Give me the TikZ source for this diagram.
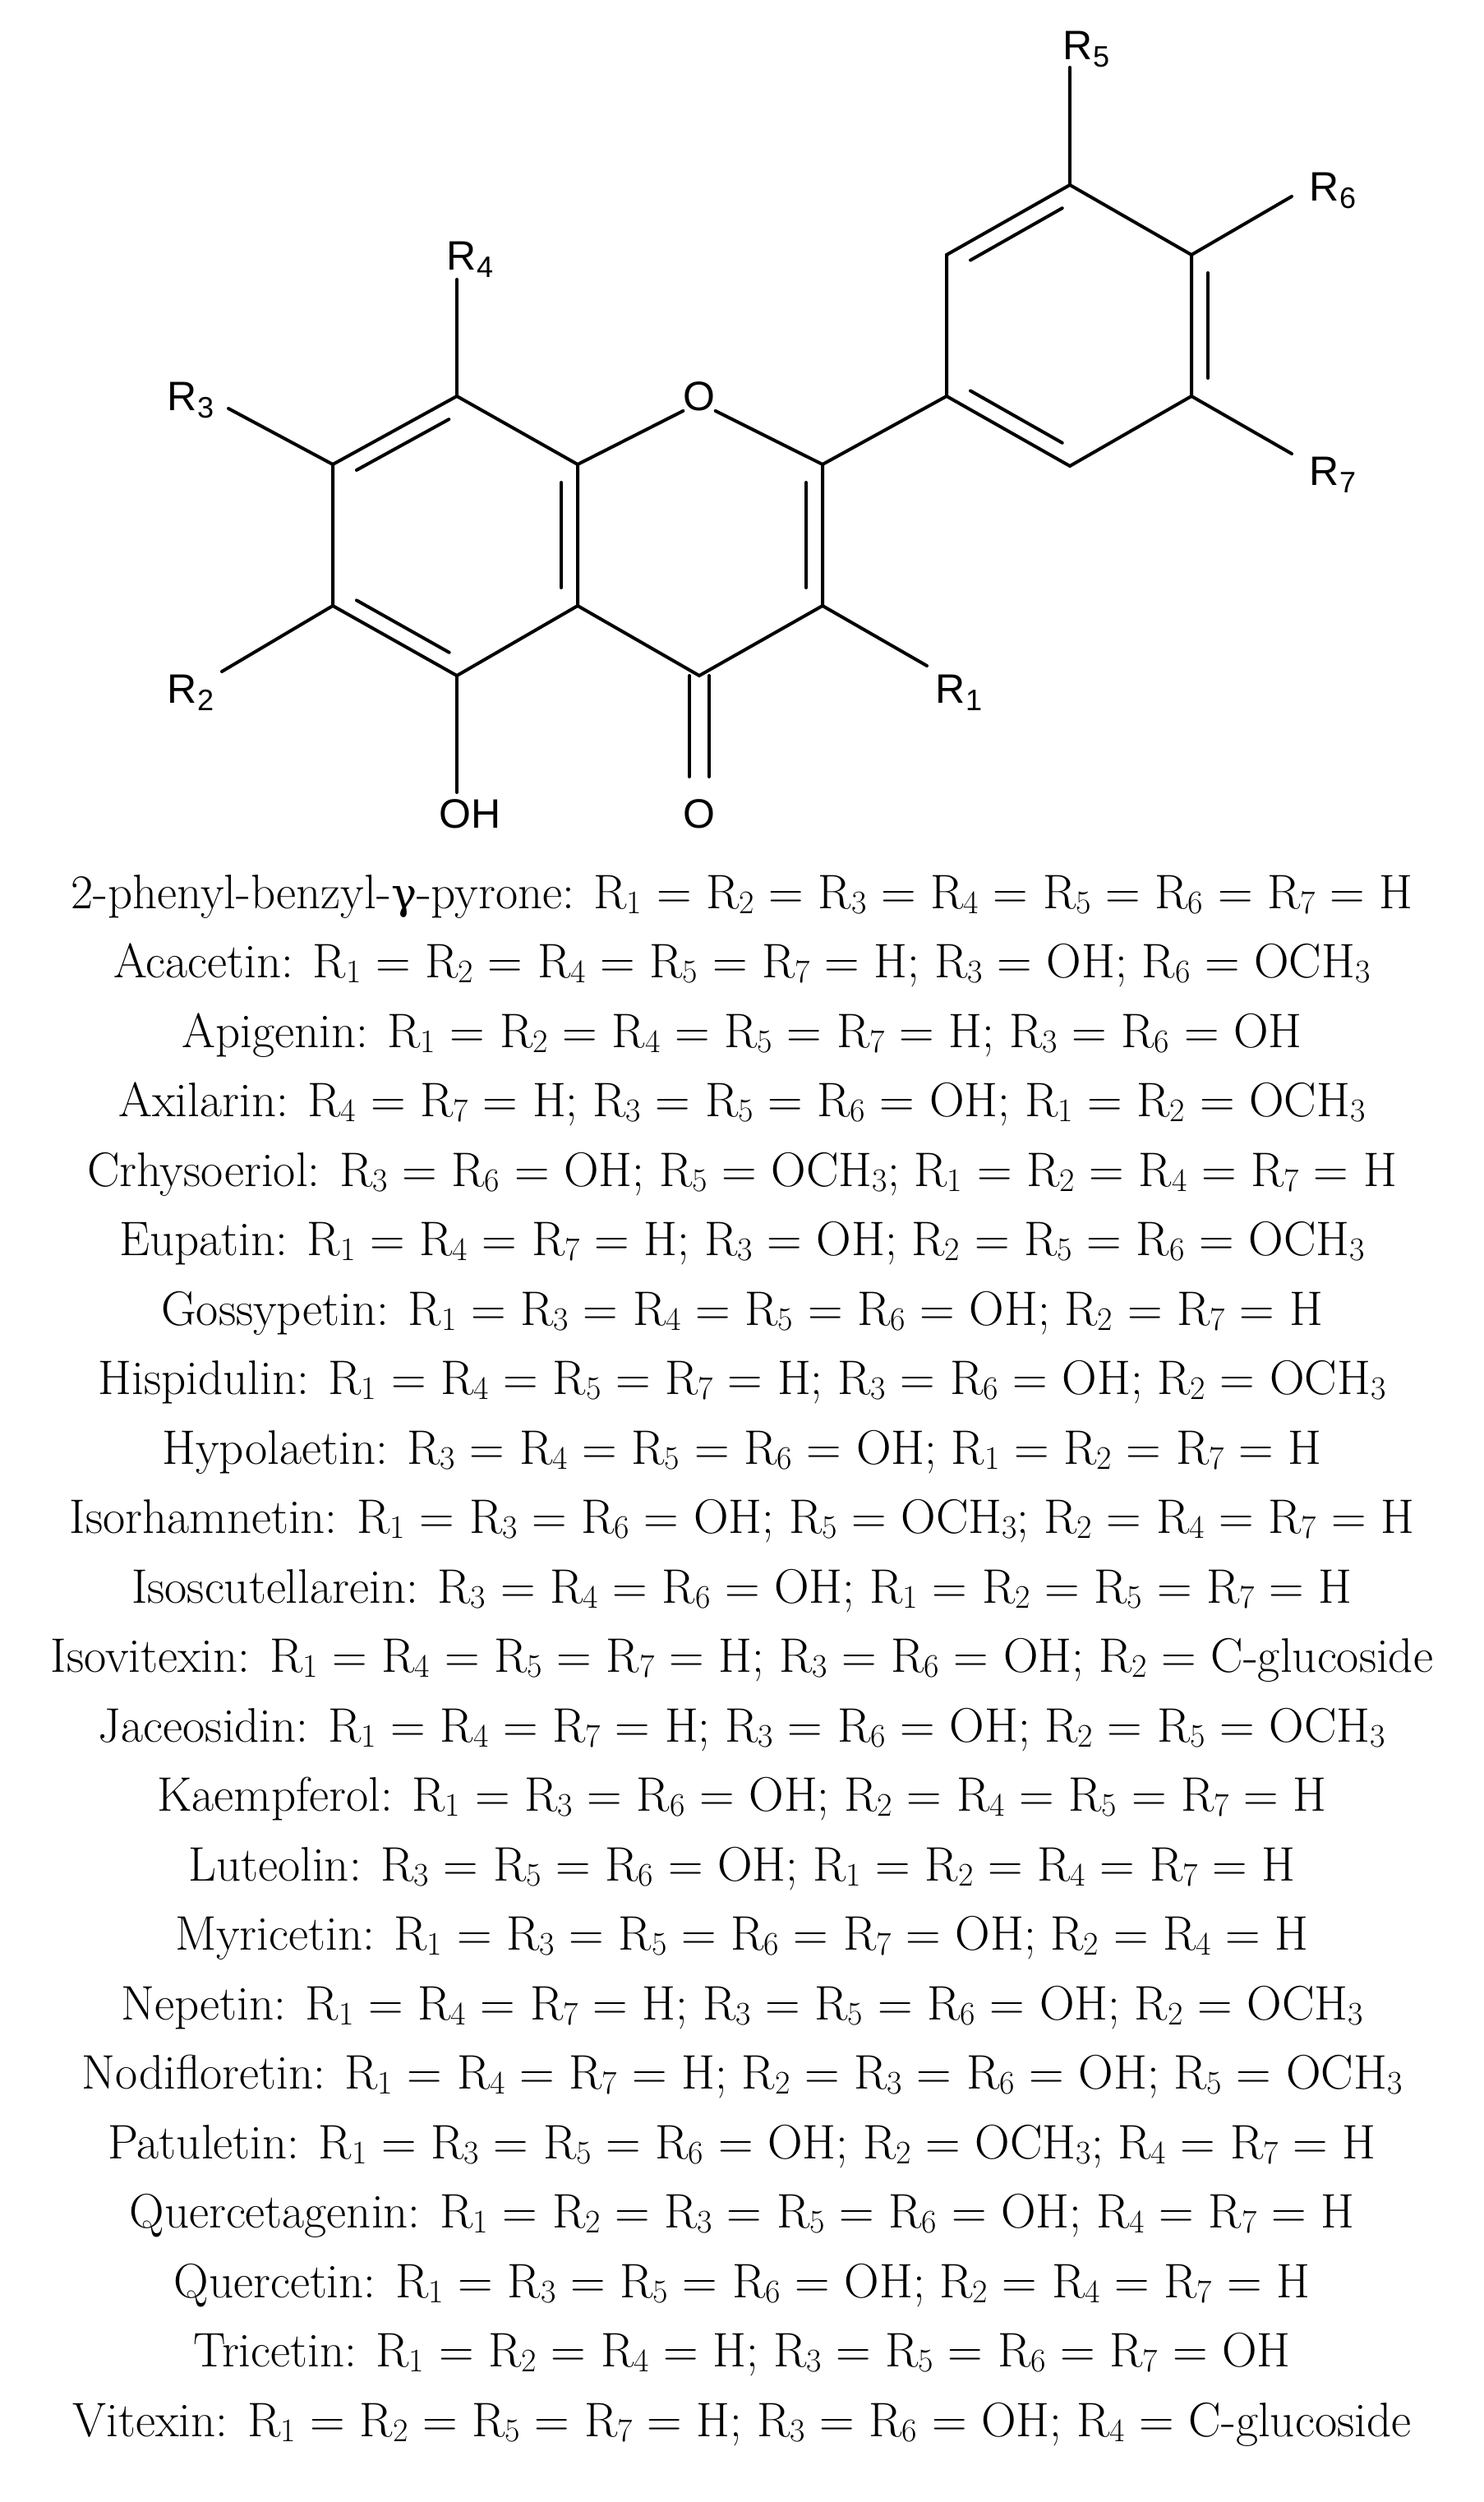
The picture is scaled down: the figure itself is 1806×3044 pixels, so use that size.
\documentclass[tikz,border=0pt]{standalone}
\usepackage{fontspec}
\usetikzlibrary{calc}
\newfontfamily\lsans{Liberation Sans}
\newfontfamily\gk{DejaVu Serif}
\newcommand{\Rr}[1]{R\raisebox{-0.25ex}{\fontsize{40}{40}\selectfont #1}}
\newcommand{\Th}{\raisebox{-0.25ex}{\fontsize{40}{40}\selectfont 3}}
\newcommand{\Sr}[1]{R\raisebox{-0.35ex}{\fontsize{36}{36}\selectfont #1}}
\newcommand{\dbl}[3]{\draw[bond,shorten <=22pt,shorten >=22pt] ($(#1)!20pt!#3:(#2)$) -- ($(#2)!20pt!-#3:(#1)$);}
\begin{document}
\begin{tikzpicture}[x=1pt,y=-1pt,
  bond/.style={line width=4pt,line cap=round},
  lab/.style={font=\lsans\fontsize{50}{50}\selectfont,inner sep=0pt},
  row/.style={font=\fontsize{59}{60}\selectfont,inner sep=0pt,anchor=base}]
\useasboundingbox (0,0) rectangle (1806,3044);
\coordinate (C8) at (556,482);
\coordinate (C7) at (405,565);
\coordinate (C6) at (405,737);
\coordinate (C5) at (556,822);
\coordinate (C4a) at (703,737);
\coordinate (C8a) at (703,565);
\node[lab] (O1) at (851,482) {O};
\coordinate (C2) at (1001,565);
\coordinate (C3) at (1001,737);
\coordinate (C4) at (851,822);
\coordinate (C1p) at (1152,482);
\coordinate (C2p) at (1152,310);
\coordinate (C3p) at (1302,225);
\coordinate (C4p) at (1450,310);
\coordinate (C5p) at (1450,482);
\coordinate (C6p) at (1302,567);
\node[lab] (Oc) at (851,990) {O};
\node[lab] (OH) at (572,990) {OH};
\node[lab] (R5) at (1322,60) {\Sr5};
\node[lab] (R6) at (1622,232) {\Sr6};
\node[lab] (R7) at (1622,578) {\Sr7};
\node[lab] (R4) at (572,316) {\Sr4};
\node[lab] (R3) at (232,487) {\Sr3};
\node[lab] (R2) at (232,843) {\Sr2};
\node[lab] (R1) at (1167,843) {\Sr1};
\coordinate (e5) at (1302,82);
\coordinate (e6) at (1572,239);
\coordinate (e7) at (1572,552);
\coordinate (e4) at (556,340);
\coordinate (e3) at (278,497);
\coordinate (e2) at (270,817);
\coordinate (e1) at (1128,810);
\coordinate (eO) at (851,945);
\coordinate (eOH) at (556,964);
\draw[bond] (C8) -- (C7) -- (C6) -- (C5) -- (C4a) -- (C8a) -- (C8);
\draw[bond] (C8a) -- (O1.south west);
\draw[bond] (O1.south east) -- (C2) -- (C3) -- (C4) -- (C4a);
\draw[bond] (C2) -- (C1p) -- (C2p) -- (C3p) -- (C4p) -- (C5p) -- (C6p) -- (C1p);
\dbl{C7}{C8}{-90}
\dbl{C5}{C6}{-90}
\dbl{C8a}{C4a}{-90}
\dbl{C2}{C3}{-90}
\dbl{C2p}{C3p}{-90}
\dbl{C4p}{C5p}{90}
\dbl{C1p}{C6p}{90}
\draw[bond] (C3p) -- (e5);
\draw[bond] (C4p) -- (e6);
\draw[bond] (C5p) -- (e7);
\draw[bond] (C8) -- (e4);
\draw[bond] (C7) -- (e3);
\draw[bond] (C6) -- (e2);
\draw[bond] (C3) -- (e1);
\draw[bond] (C5) -- (eOH);
\draw[bond] ($(C4)+(-12,0)$) -- ($(eO)+(-12,0)$);
\draw[bond] ($(C4)+(12,0)$) -- ($(eO)+(12,0)$);
\foreach \t [count=\i from 0] in {
{2-phenyl-benzyl-{\gk\fontsize{52}{52}\selectfont γ}-pyrone: \Rr1 = \Rr2 = \Rr3 = \Rr4 = \Rr5 = \Rr6 = \Rr7 = H},
{Acacetin: \Rr1 = \Rr2 = \Rr4 = \Rr5 = \Rr7 = H; \Rr3 = OH; \Rr6 = OCH\Th},
{Apigenin: \Rr1 = \Rr2 = \Rr4 = \Rr5 = \Rr7 = H; \Rr3 = \Rr6 = OH},
{Axilarin: \Rr4 = \Rr7 = H; \Rr3 = \Rr5 = \Rr6 = OH; \Rr1 = \Rr2 = OCH\Th},
{Crhysoeriol: \Rr3 = \Rr6 = OH; \Rr5 = OCH\Th; \Rr1 = \Rr2 = \Rr4 = \Rr7 = H},
{Eupatin: \Rr1 = \Rr4 = \Rr7 = H; \Rr3 = OH; \Rr2 = \Rr5 = \Rr6 = OCH\Th},
{Gossypetin: \Rr1 = \Rr3 = \Rr4 = \Rr5 = \Rr6 = OH; \Rr2 = \Rr7 = H},
{Hispidulin: \Rr1 = \Rr4 = \Rr5 = \Rr7 = H; \Rr3 = \Rr6 = OH; \Rr2 = OCH\Th},
{Hypolaetin: \Rr3 = \Rr4 = \Rr5 = \Rr6 = OH; \Rr1 = \Rr2 = \Rr7 = H},
{Isorhamnetin: \Rr1 = \Rr3 = \Rr6 = OH; \Rr5 = OCH\Th; \Rr2 = \Rr4 = \Rr7 = H},
{Isoscutellarein: \Rr3 = \Rr4 = \Rr6 = OH; \Rr1 = \Rr2 = \Rr5 = \Rr7 = H},
{Isovitexin: \Rr1 = \Rr4 = \Rr5 = \Rr7 = H; \Rr3 = \Rr6 = OH; \Rr2 = C-glucoside},
{Jaceosidin: \Rr1 = \Rr4 = \Rr7 = H; \Rr3 = \Rr6 = OH; \Rr2 = \Rr5 = OCH\Th},
{Kaempferol: \Rr1 = \Rr3 = \Rr6 = OH; \Rr2 = \Rr4 = \Rr5 = \Rr7 = H},
{Luteolin: \Rr3 = \Rr5 = \Rr6 = OH; \Rr1 = \Rr2 = \Rr4 = \Rr7 = H},
{Myricetin: \Rr1 = \Rr3 = \Rr5 = \Rr6 = \Rr7 = OH; \Rr2 = \Rr4 = H},
{Nepetin: \Rr1 = \Rr4 = \Rr7 = H; \Rr3 = \Rr5 = \Rr6 = OH; \Rr2 = OCH\Th},
{Nodifloretin: \Rr1 = \Rr4 = \Rr7 = H; \Rr2 = \Rr3 = \Rr6 = OH; \Rr5 = OCH\Th},
{Patuletin: \Rr1 = \Rr3 = \Rr5 = \Rr6 = OH; \Rr2 = OCH\Th; \Rr4 = \Rr7 = H},
{Quercetagenin: \Rr1 = \Rr2 = \Rr3 = \Rr5 = \Rr6 = OH; \Rr4 = \Rr7 = H},
{Quercetin: \Rr1 = \Rr3 = \Rr5 = \Rr6 = OH; \Rr2 = \Rr4 = \Rr7 = H},
{Tricetin: \Rr1 = \Rr2 = \Rr4 = H; \Rr3 = \Rr5 = \Rr6 = \Rr7 = OH},
{Vitexin: \Rr1 = \Rr2 = \Rr5 = \Rr7 = H; \Rr3 = \Rr6 = OH; \Rr4 = C-glucoside}}
  \node[row] (t\i) at (903,1105+84.5*\i) {\t};
\end{tikzpicture}
\end{document}
